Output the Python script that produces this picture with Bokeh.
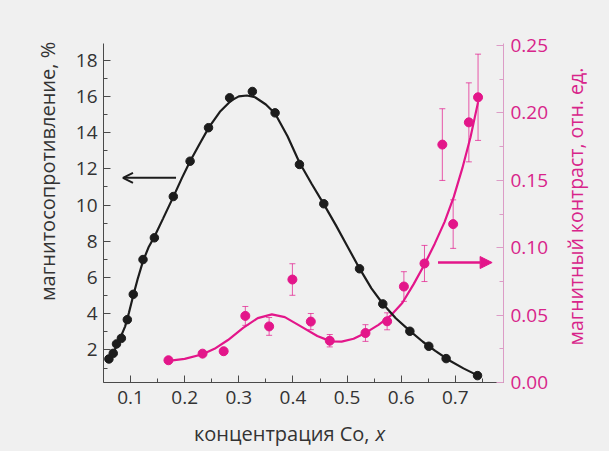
import math

from bokeh.core.properties import value
from bokeh.embed import file_html
from bokeh.layouts import column, row
from bokeh.models import (Arrow, ColumnDataSource, FixedTicker, LinearAxis,
                          NormalHead, OpenHead, Range1d, TeeHead, Whisker)
from bokeh.plotting import figure
from bokeh.resources import INLINE

# --- magnetoresistance, % (left axis) ---
mr_x = [0.060, 0.068, 0.074, 0.083, 0.094, 0.105, 0.123, 0.144, 0.179, 0.210, 0.244,
        0.283, 0.325, 0.367, 0.412, 0.457, 0.523, 0.566, 0.616, 0.651, 0.683, 0.741]
mr_y = [1.50, 1.81, 2.33, 2.64, 3.67, 5.07, 6.99, 8.19, 10.47, 12.42, 14.27,
        15.92, 16.27, 15.09, 12.24, 10.07, 6.48, 4.54, 3.03, 2.20, 1.52, 0.58]

# smooth guide curve through the magnetoresistance points
mr_fit_x = [0.060, 0.068, 0.075, 0.083, 0.090, 0.097, 0.105, 0.113, 0.123, 0.133,
            0.144, 0.160, 0.179, 0.195, 0.210, 0.228, 0.245, 0.265, 0.285, 0.300,
            0.315, 0.330, 0.350, 0.367, 0.390, 0.412, 0.435, 0.457, 0.480, 0.500,
            0.523, 0.545, 0.566, 0.590, 0.616, 0.640, 0.663, 0.690, 0.715, 0.742]
mr_fit_y = [1.45, 1.85, 2.25, 2.80, 3.30, 4.05, 5.00, 5.90, 6.90, 7.65,
            8.25, 9.25, 10.45, 11.50, 12.42, 13.40, 14.30, 15.15, 15.75, 16.00,
            16.05, 15.95, 15.55, 15.05, 13.80, 12.35, 11.15, 10.05, 8.85, 7.75,
            6.50, 5.40, 4.55, 3.75, 3.05, 2.45, 1.95, 1.40, 0.98, 0.58]

# --- magnetic contrast, arb. units (right axis) ---
mc_x = [0.170, 0.233, 0.272, 0.312, 0.356, 0.399, 0.433, 0.468, 0.534, 0.574,
        0.605, 0.643, 0.676, 0.696, 0.725, 0.742]
mc_y = [0.0165, 0.0214, 0.0232, 0.0494, 0.0416, 0.0764, 0.0452, 0.0310, 0.0367, 0.0454,
        0.0712, 0.0883, 0.1765, 0.1175, 0.1930, 0.2116]
mc_err = [0.0, 0.0, 0.0, 0.0070, 0.0066, 0.0117, 0.0060, 0.0046, 0.0062, 0.0063,
          0.0110, 0.0134, 0.0266, 0.0180, 0.0293, 0.0320]

mc_fit_x = [0.170, 0.200, 0.233, 0.255, 0.280, 0.308, 0.335, 0.361, 0.385, 0.413,
            0.445, 0.470, 0.490, 0.512, 0.534, 0.558, 0.580, 0.602, 0.623, 0.643,
            0.662, 0.680, 0.697, 0.713, 0.728, 0.742]
mc_fit_y = [0.0160, 0.0175, 0.0210, 0.0250, 0.0315, 0.0405, 0.0478, 0.0505, 0.0485, 0.0420,
            0.0345, 0.0305, 0.0303, 0.0325, 0.0368, 0.0428, 0.0494, 0.0590, 0.0730, 0.0875,
            0.1030, 0.1190, 0.1375, 0.1590, 0.1820, 0.2080]

# --- ticks ---
x_ticks = [0.1, 0.2, 0.3, 0.4, 0.5, 0.6, 0.7]
x_minor = [0.05, 0.15, 0.25, 0.35, 0.45, 0.55, 0.65, 0.75]
x_labels = ["0.1", "0.2", "0.3", "0.4", "0.5", "0.6", "0.7"]
left_ticks = [2, 4, 6, 8, 10, 12, 14, 16, 18]
left_minor = [1, 3, 5, 7, 9, 11, 13, 15, 17]
right_ticks = [0.0, 0.05, 0.10, 0.15, 0.20, 0.25]
right_minor = [0.025, 0.075, 0.125, 0.175, 0.225]
right_labels = ["0.00", "0.05", "0.10", "0.15", "0.20", "0.25"]

# axis titles; non-breaking spaces nudge the left title off the axis centre
NB = "\u00a0"
left_title = NB * 16 + "магнитосопротивление, %"
right_title = "магнитный контраст, отн. ед."
x_title = "концентрация Co,"
x_var = "x"

BG = "#f0f0f0"
INK = "#1c1c1c"
TEXT = "#333333"
PINK = "#e3168a"
PINK_TEXT = "#d8248a"
PINK_AXIS = "#dc9cc6"
FONT = "Open Sans"
FS = "19px"
FS_TITLE = "20px"

W, W_MAIN, H, H_MAIN = 609, 560, 451, 420
W_SIDE, H_BOTTOM = W - W_MAIN, H - H_MAIN

p = figure(width=W_MAIN, height=H_MAIN, output_backend="svg", toolbar_location=None,
           title=None, x_range=Range1d(0.05, 0.789), y_range=Range1d(0.2, 18.92),
           min_border_left=103, min_border_right=57, min_border_top=43, min_border_bottom=38,
           background_fill_color=BG, border_fill_color=BG, outline_line_color=None)
p.xgrid.visible = False
p.ygrid.visible = False
p.extra_y_ranges = {"contrast": Range1d(0.0, 0.2515)}


def style_axis(ax, color, line_color, ticks, minor):
    ax.ticker = FixedTicker(ticks=ticks, minor_ticks=minor)
    ax.axis_line_color = line_color
    ax.major_tick_line_color = line_color
    ax.minor_tick_line_color = line_color
    ax.major_tick_out = 0
    ax.major_tick_in = 7
    ax.minor_tick_out = 0
    ax.minor_tick_in = 4
    ax.major_label_text_font = FONT
    ax.major_label_text_font_size = FS
    ax.major_label_text_color = color
    ax.axis_label_text_font = FONT
    ax.axis_label_text_font_size = FS_TITLE
    ax.axis_label_text_font_style = "normal"
    ax.axis_label_text_color = color


xa = p.xaxis[0]
style_axis(xa, TEXT, "#4a4a4a", x_ticks, x_minor)
xa.major_label_overrides = {t: s for t, s in zip(x_ticks, x_labels)}
xa.major_label_standoff = 8

ya = p.yaxis[0]
style_axis(ya, TEXT, "#4a4a4a", left_ticks, left_minor)
ya.major_label_standoff = 6
ya.axis_label = left_title
ya.axis_label_standoff = 12

ra = LinearAxis(y_range_name="contrast")
style_axis(ra, PINK_TEXT, PINK_AXIS, right_ticks, right_minor)
ra.major_label_overrides = {t: s for t, s in zip(right_ticks, right_labels)}
ra.major_label_standoff = 7
p.add_layout(ra, "right")

# magnetic contrast: fit, error bars, points
p.line(mc_fit_x, mc_fit_y, y_range_name="contrast", line_color=PINK, line_width=2.2)
eb_x = [x for x, e in zip(mc_x, mc_err) if e > 0]
eb_lo = [y - e for y, e in zip(mc_y, mc_err) if e > 0]
eb_hi = [y + e for y, e in zip(mc_y, mc_err) if e > 0]
eb_src = ColumnDataSource(data=dict(x=eb_x, lower=eb_lo, upper=eb_hi))
p.add_layout(Whisker(source=eb_src, base="x", lower="lower", upper="upper",
                     dimension="height", y_range_name="contrast",
                     line_color=PINK, line_alpha=0.7, line_width=1,
                     lower_head=TeeHead(size=6, line_color=PINK, line_alpha=0.7, line_width=1),
                     upper_head=TeeHead(size=6, line_color=PINK, line_alpha=0.7, line_width=1)))
p.scatter(mc_x, mc_y, y_range_name="contrast", size=9, marker="circle",
          fill_color=PINK, line_color=PINK)

# magnetoresistance: fit and points
p.line(mr_fit_x, mr_fit_y, line_color=INK, line_width=2.2)
p.scatter(mr_x, mr_y, size=8.5, marker="circle", fill_color=INK, line_color=INK)

# arrows pointing to the matching axis
p.add_layout(Arrow(end=OpenHead(size=10, line_color=INK, line_width=2),
                   x_start=0.184, y_start=11.5, x_end=0.086, y_end=11.5,
                   line_color=INK, line_width=2))
p.add_layout(Arrow(end=NormalHead(size=12, fill_color=PINK, line_color=PINK),
                   x_start=0.668, y_start=0.089, x_end=0.768, y_end=0.089,
                   y_range_name="contrast", line_color=PINK, line_width=2.5))


def strip(width, height):
    """A bare, pixel-scaled panel used only to hold a title."""
    s = figure(width=width, height=height, output_backend="svg", toolbar_location=None,
               title=None, x_range=Range1d(0, width), y_range=Range1d(0, height),
               x_axis_location=None, y_axis_location=None, min_border=0,
               background_fill_color=BG, border_fill_color=BG, outline_line_color=None)
    s.xgrid.visible = False
    s.ygrid.visible = False
    return s


# right-axis title, read bottom to top
side = strip(W_SIDE, H_MAIN)
side.text(x=[15], y=[H_MAIN - 202], text=[right_title], angle=math.pi / 2,
          text_align="center", text_baseline="middle", text_font=value(FONT),
          text_font_size=value("19.5px"), text_color=PINK_TEXT)

# x-axis title with the variable set in italics
bottom = strip(W, H_BOTTOM)
bottom.text(x=[369], y=[H - 433], text=[x_title], text_align="right",
            text_baseline="alphabetic", text_font=value(FONT),
            text_font_size=value(FS_TITLE), text_color=TEXT)
bottom.text(x=[375], y=[H - 433], text=[x_var], text_align="left",
            text_baseline="alphabetic", text_font=value(FONT),
            text_font_size=value(FS_TITLE), text_font_style="italic", text_color=TEXT)

layout = column(row(p, side, styles={"background-color": BG}), bottom,
                styles={"background-color": BG})
open("out.html", "w").write(file_html(layout, INLINE))
